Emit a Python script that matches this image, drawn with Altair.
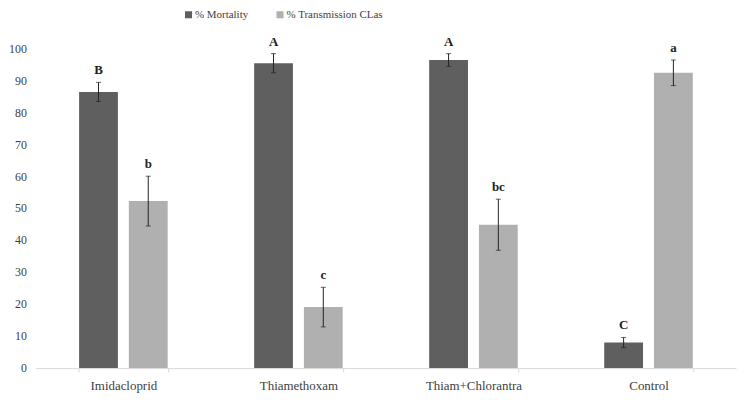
import altair as alt
import pandas as pd

categories = ["Imidacloprid", "Thiamethoxam", "Thiam+Chlorantra", "Control"]
series_names = ["% Mortality", "% Transmission CLas"]
mortality = [86.5, 95.5, 96.5, 8.0]
mortality_err = [3.0, 3.0, 2.0, 1.6]
transmission = [52.3, 19.1, 44.9, 92.5]
transmission_err = [7.8, 6.2, 8.0, 4.0]
mortality_letters = ["B", "A", "A", "C"]
transmission_letters = ["b", "c", "bc", "a"]
y_ticks = list(range(0, 101, 10))

rows = []
for i, c in enumerate(categories):
    rows.append(dict(cat=c, series=series_names[0], val=mortality[i],
                     lo=mortality[i] - mortality_err[i], hi=mortality[i] + mortality_err[i],
                     letter=mortality_letters[i]))
    rows.append(dict(cat=c, series=series_names[1], val=transmission[i],
                     lo=transmission[i] - transmission_err[i], hi=transmission[i] + transmission_err[i],
                     letter=transmission_letters[i]))
df = pd.DataFrame(rows)
ticks_df = pd.DataFrame({"v": y_ticks, "lab": [str(t) for t in y_ticks]})

FONT = "Liberation Serif"
TXT = "#404040"

x_scale = alt.Scale(paddingInner=0.494, paddingOuter=0.247)
x_enc = alt.X("cat:N", sort=categories, title=None, scale=x_scale)
xo = alt.XOffset("series:N", sort=series_names,
                 scale=alt.Scale(paddingInner=0.22, paddingOuter=0))
y_scale = alt.Scale(domain=[0, 100], nice=False)
y_axis = alt.Axis(values=y_ticks, labels=False)


def yq(field):
    return alt.Y(field, type="quantitative", scale=y_scale, title=None, axis=y_axis)


bars = alt.Chart(df).mark_bar().encode(
    x=x_enc,
    xOffset=xo,
    y=yq("val"),
    color=alt.Color("series:N", sort=series_names,
                    scale=alt.Scale(domain=series_names, range=["#5f5f5f", "#b0b0b0"]),
                    legend=alt.Legend(title=None, orient="none", direction="horizontal",
                                      legendX=148, legendY=-40, symbolType="square",
                                      symbolSize=50, symbolStrokeWidth=0,
                                      columnPadding=26, labelOffset=1)),
)

rules = alt.Chart(df).mark_rule(color="#222222", strokeWidth=1).encode(
    x=x_enc,
    xOffset=xo,
    y=yq("lo"),
    y2="hi:Q",
)

caps_lo = alt.Chart(df).mark_tick(color="#222222", thickness=1, size=5, orient="horizontal").encode(
    x=x_enc,
    xOffset=xo,
    y=yq("lo"),
)
caps_hi = alt.Chart(df).mark_tick(color="#222222", thickness=1, size=5, orient="horizontal").encode(
    x=x_enc,
    xOffset=xo,
    y=yq("hi"),
)

letters = alt.Chart(df).mark_text(font=FONT, fontSize=13, fontWeight="bold", fill="#222222",
                                  baseline="bottom", dy=-5).encode(
    x=x_enc,
    xOffset=xo,
    y=yq("hi"),
    text="letter:N",
)

ylabels = alt.Chart(ticks_df).mark_text(font=FONT, fontSize=12, fill=TXT, align="right",
                                        baseline="middle").encode(
    x=alt.value(-9),
    y=yq("v"),
    text="lab:N",
)

chart = alt.layer(bars, rules, caps_lo, caps_hi, letters, ylabels).properties(
    width=704, height=321,
    autosize=alt.AutoSizeParams(type="none"),
    padding={"left": 28, "top": 40, "right": 4, "bottom": 24},
    background="white",
).configure_view(stroke=None).configure_axisX(
    labelAngle=0, labelFont=FONT, labelFontSize=13, labelColor=TXT,
    domainColor="#d9d9d9", tickColor="#d9d9d9", tickBand="extent",
    tickSize=4, labelPadding=8, grid=False,
).configure_axisY(
    grid=False, domain=False, ticks=False,
).configure_legend(
    labelFont=FONT, labelFontSize=11, labelColor=TXT,
)

chart.save("out.html", embed_options={"renderer": "svg", "actions": False})
